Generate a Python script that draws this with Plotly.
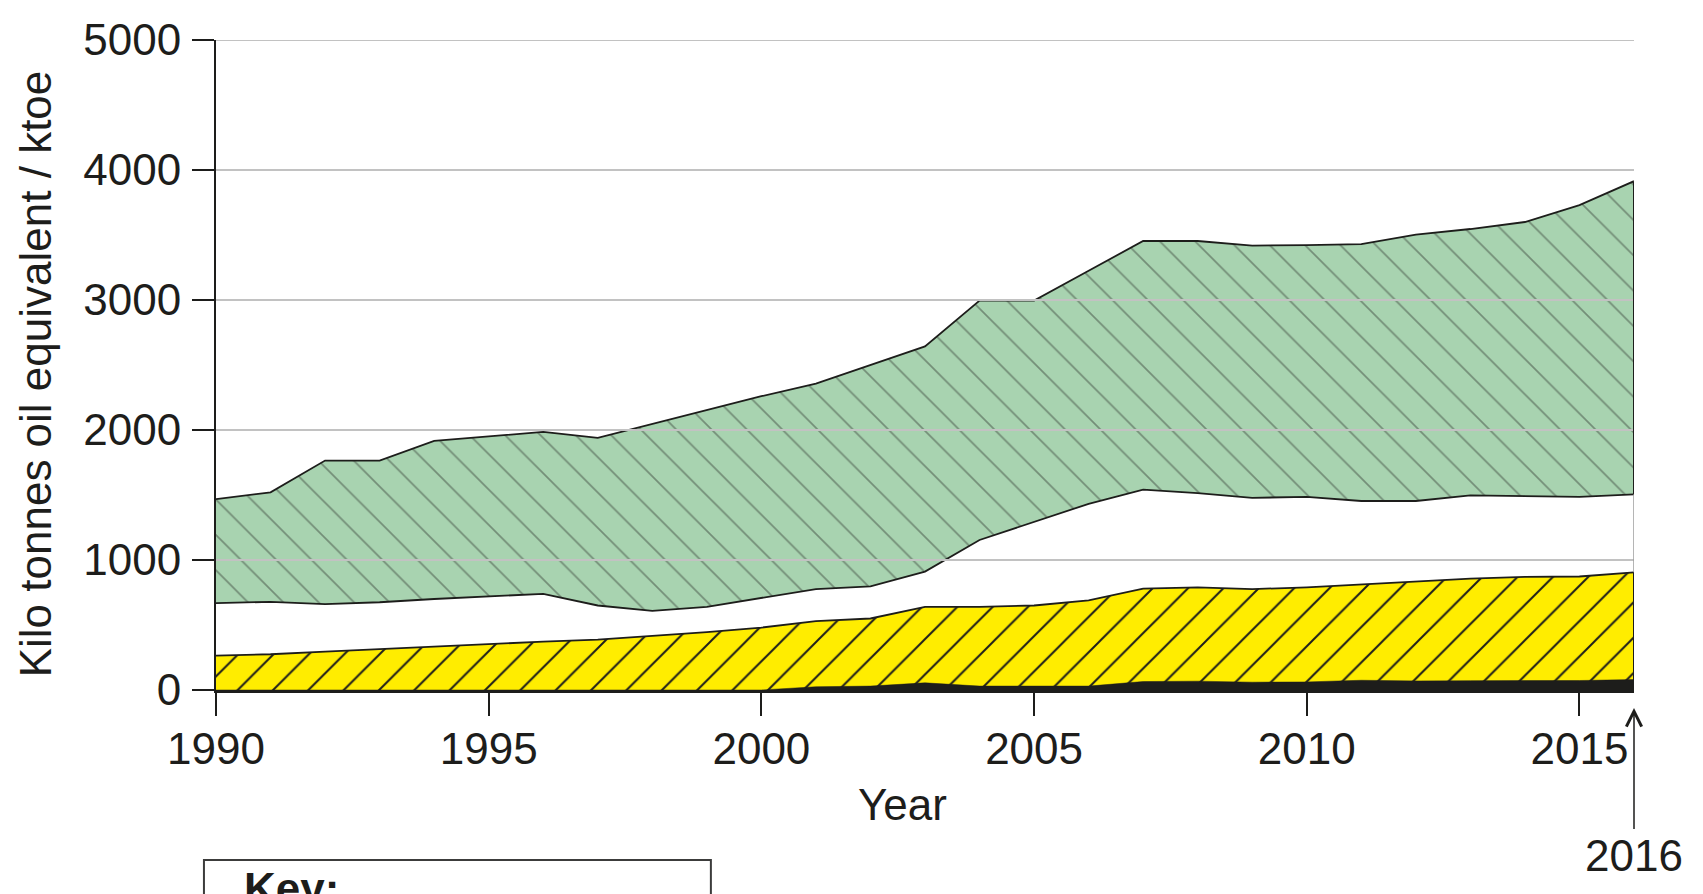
import plotly.graph_objects as go

# ---- data (ktoe, cumulative boundaries) ----
years = [1990, 1991, 1992, 1993, 1994, 1995, 1996, 1997, 1998, 1999, 2000,
         2001, 2002, 2003, 2004, 2005, 2006, 2007, 2008, 2009, 2010,
         2011, 2012, 2013, 2014, 2015, 2016]

black_top = [0, 0, 0, 0, 0, 0, 0, 0, 0, 0, 0,
             25, 30, 55, 30, 30, 30, 65, 68, 60, 62,
             75, 70, 72, 72, 73, 80]

yellow_top = [265, 275, 295, 315, 335, 355, 372, 388, 415, 445, 480,
              530, 550, 640, 640, 650, 690, 780, 790, 776, 790,
              814, 838, 857, 870, 873, 905]

green_bottom = [668, 678, 660, 675, 700, 722, 740, 650, 608, 640, 710,
                776, 797, 911, 1154, 1295, 1432, 1541, 1514, 1478, 1486,
                1454, 1454, 1497, 1492, 1486, 1505]

green_top = [1468, 1520, 1765, 1765, 1916, 1950, 1985, 1940, 2045, 2155, 2260,
             2357, 2500, 2643, 2995, 2995, 3225, 3454, 3454, 3419, 3422,
             3430, 3503, 3546, 3600, 3730, 3914]

x_ticks = [1990, 1995, 2000, 2005, 2010, 2015]
y_ticks = [0, 1000, 2000, 3000, 4000, 5000]
grid_values = [1000, 2000, 3000, 4000, 5000]

DARK = "#1d1d1b"
YELLOW = "#ffed00"
GREEN = "#a8d3b0"
GRID = "#c2c2c2"
FONT = "Liberation Sans, Arial, Helvetica, sans-serif"

fig = go.Figure()

fig.add_trace(go.Scatter(
    x=years, y=yellow_top, mode="lines",
    line=dict(color=DARK, width=1.8),
    fill="tozeroy", fillcolor=YELLOW,
    fillpattern=dict(shape="/", size=25, solidity=0.08,
                     fgcolor=DARK, bgcolor=YELLOW, fillmode="replace"),
    hoverinfo="skip", showlegend=False))

fig.add_trace(go.Scatter(
    x=years, y=black_top, mode="lines",
    line=dict(color=DARK, width=0.5),
    fill="tozeroy", fillcolor=DARK,
    hoverinfo="skip", showlegend=False))

fig.add_trace(go.Scatter(
    x=years, y=green_bottom, mode="lines",
    line=dict(color=DARK, width=1.8),
    hoverinfo="skip", showlegend=False))

fig.add_trace(go.Scatter(
    x=years, y=green_top, mode="lines",
    line=dict(color=DARK, width=1.8),
    fill="tonexty", fillcolor=GREEN,
    fillpattern=dict(shape="\\", size=25, solidity=0.07,
                     fgcolor=DARK, fgopacity=0.38, bgcolor=GREEN,
                     fillmode="replace"),
    hoverinfo="skip", showlegend=False))

shapes = []
for v in grid_values:
    shapes.append(dict(type="line", xref="x", yref="y",
                       x0=years[0], x1=years[-1], y0=v, y1=v,
                       line=dict(color=GRID, width=2), layer="above"))
# right-hand edge of the areas at the last year
shapes.append(dict(type="line", xref="x", yref="y",
                   x0=years[-1], x1=years[-1], y0=0, y1=green_top[-1],
                   line=dict(color="#9d9d9c", width=1.5), layer="above"))
shapes.append(dict(type="line", xref="x", yref="y",
                   x0=years[-1], x1=years[-1], y0=0, y1=yellow_top[-1],
                   line=dict(color=DARK, width=2), layer="above"))
shapes.append(dict(type="line", xref="x", yref="y",
                   x0=years[-1], x1=years[-1], y0=green_bottom[-1], y1=green_top[-1],
                   line=dict(color=DARK, width=2), layer="above"))
# key box (cut off at the bottom of the picture)
shapes.append(dict(type="rect", xref="paper", yref="paper",
                   x0=-0.0085, x1=0.349, y0=-0.2615, y1=-0.45,
                   line=dict(color="#3c3c3b", width=2), fillcolor="rgba(0,0,0,0)"))

annotations = [
    dict(text="Kilo tonnes oil equivalent / ktoe", xref="paper", yref="paper",
         x=-0.1275, y=0.486, textangle=-90, showarrow=False,
         xanchor="center", yanchor="middle",
         font=dict(family=FONT, size=44, color=DARK)),
    dict(text="Year", xref="paper", yref="paper",
         x=0.4844, y=-0.1754, showarrow=False,
         xanchor="center", yanchor="middle",
         font=dict(family=FONT, size=44, color=DARK)),
    dict(text=str(years[-1]), xref="x", yref="y", x=years[-1], y=0,
         ax=0, ay=165, axref="pixel", ayref="pixel",
         showarrow=True, arrowhead=5, arrowsize=2, arrowwidth=1.5,
         arrowcolor=DARK, standoff=18,
         font=dict(family=FONT, size=44, color=DARK)),
    dict(text="<b>Key:</b>", xref="paper", yref="paper",
         x=(242 - 216) / 1418.3, y=-0.2646, showarrow=False,
         xanchor="left", yanchor="top",
         font=dict(family=FONT, size=44, color=DARK)),
]

fig.update_layout(
    width=1703, height=894,
    margin=dict(l=216, r=69, t=40, b=204),
    paper_bgcolor="white", plot_bgcolor="white",
    font=dict(family=FONT, size=44, color=DARK),
    showlegend=False,
    shapes=shapes, annotations=annotations,
    xaxis=dict(range=[years[0], years[-1]], tickvals=x_ticks,
               ticktext=[str(t) for t in x_ticks],
               ticks="outside", ticklen=23, tickwidth=2, tickcolor=DARK,
               showline=True, linewidth=3, linecolor=DARK,
               showgrid=False, zeroline=False, layer="above traces",
               tickfont=dict(family=FONT, size=44, color=DARK),
               ticklabelstandoff=-5),
    yaxis=dict(range=[0, 5000], tickvals=y_ticks,
               ticktext=[str(t) for t in y_ticks],
               ticks="outside", ticklen=22, tickwidth=2, tickcolor=DARK,
               showline=True, linewidth=2, linecolor=DARK,
               showgrid=False, zeroline=False, layer="above traces",
               tickfont=dict(family=FONT, size=44, color=DARK),
               ticklabelstandoff=2),
)

fig.write_html("out.html")
